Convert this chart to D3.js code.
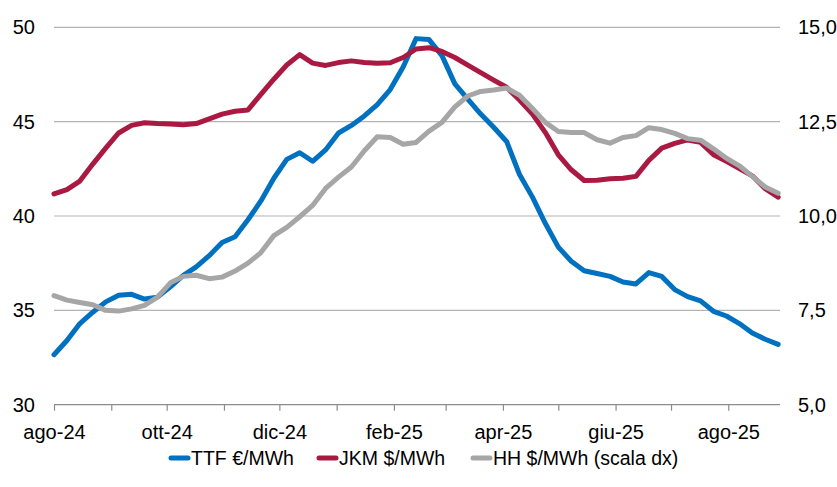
<!DOCTYPE html>
<html>
<head>
<meta charset="utf-8">
<script src="https://cdn.jsdelivr.net/npm/d3@7"></script>
<style>
  html, body { margin: 0; padding: 0; background: #fff; }
  svg { display: block; font-family: "Liberation Sans", Arial, sans-serif; }
</style>
</head>
<body>
<svg id="chart" width="837" height="487"></svg>
<script>
// ---- data (weekly readings) ----
const dates = [
  "2024-08-01","2024-08-08","2024-08-15","2024-08-22","2024-08-29","2024-09-05","2024-09-12","2024-09-19","2024-09-26",
  "2024-10-03","2024-10-10","2024-10-17","2024-10-24","2024-10-31","2024-11-07","2024-11-14","2024-11-21","2024-11-28",
  "2024-12-05","2024-12-12","2024-12-19","2024-12-26","2025-01-02","2025-01-09","2025-01-16","2025-01-23","2025-01-30",
  "2025-02-06","2025-02-13","2025-02-20","2025-02-27","2025-03-06","2025-03-13","2025-03-20","2025-03-27","2025-04-03",
  "2025-04-10","2025-04-17","2025-04-24","2025-05-01","2025-05-08","2025-05-15","2025-05-22","2025-05-29","2025-06-05",
  "2025-06-12","2025-06-19","2025-06-26","2025-07-03","2025-07-10","2025-07-17","2025-07-24","2025-07-31","2025-08-07",
  "2025-08-14","2025-08-21","2025-08-28"
];
const ttf = [
  32.65,33.4,34.3,34.9,35.45,35.8,35.85,35.6,35.7,36.25,36.85,37.3,37.9,38.6,38.9,39.8,40.8,42.0,43.0,43.35,42.9,
  43.5,44.4,44.8,45.3,45.9,46.7,47.9,49.4,49.35,48.5,47.0,46.2,45.4,44.7,43.95,42.2,41.0,39.6,38.35,37.6,37.1,36.95,
  36.8,36.5,36.4,37.0,36.8,36.1,35.73,35.5,34.95,34.7,34.3,33.8,33.47,33.2
];
const jkm = [
  41.17,41.4,41.85,42.75,43.6,44.4,44.8,44.94,44.9,44.88,44.83,44.9,45.15,45.4,45.55,45.62,46.45,47.25,48.0,48.55,48.1,
  47.98,48.13,48.22,48.14,48.1,48.12,48.4,48.85,48.92,48.72,48.4,48.0,47.6,47.2,46.82,46.15,45.4,44.42,43.24,42.45,41.88,41.9,
  41.97,42.0,42.1,42.95,43.6,43.85,44.03,43.9,43.25,42.9,42.52,42.13,41.45,41.0
];
const hh = [
  7.89,7.77,7.71,7.65,7.50,7.48,7.54,7.63,7.85,8.23,8.40,8.43,8.34,8.38,8.54,8.75,9.03,9.48,9.70,9.98,10.28,
  10.73,11.03,11.30,11.73,12.10,12.08,11.90,11.95,12.25,12.48,12.89,13.18,13.30,13.34,13.39,13.20,12.85,12.48,12.24,12.21,12.21,12.02,
  11.93,12.08,12.13,12.34,12.29,12.19,12.05,12.01,11.78,11.53,11.33,11.05,10.77,10.60
];
const leftTicks = [30, 35, 40, 45, 50];
const rightTicks = [5, 7.5, 10, 12.5, 15];
const monthLabels = ["gen","feb","mar","apr","mag","giu","lug","ago","set","ott","nov","dic"];
const seriesNames = ["TTF €/MWh", "JKM $/MWh", "HH $/MWh (scala dx)"];
const seriesColors = ["#0070C0", "#AA1941", "#A6A6A6"];

// ---- layout ----
const svg = d3.select("#chart");
const X0 = 54, X1 = 780, Y0 = 27.3, Y1 = 404.7;
const FONT = "'Liberation Sans', Arial, sans-serif";
const parse = d3.timeParse("%Y-%m-%d");
const dt = dates.map(parse);

const x = d3.scaleTime()
  .domain([parse("2024-08-01"), parse("2025-08-29")])
  .range([X0, X1]);
const yL = d3.scaleLinear().domain([30, 50]).range([Y1, Y0]);
const yR = d3.scaleLinear().domain([5, 15]).range([Y1, Y0]);

// gridlines
svg.append("g").selectAll("line")
  .data(leftTicks.filter(d => d !== 30))
  .join("line")
  .attr("x1", X0).attr("x2", X1)
  .attr("y1", d => yL(d)).attr("y2", d => yL(d))
  .attr("stroke", "#b4b4b4").attr("stroke-width", 1.2);

// x axis
const monthTicks = d3.timeMonth.range(parse("2024-08-01"), parse("2025-08-30"));
const xAxis = d3.axisBottom(x)
  .tickValues(monthTicks)
  .tickSize(6)
  .tickPadding(14)
  .tickFormat((d, i) => i % 2 === 0 ? monthLabels[d.getMonth()] + "-" + d3.timeFormat("%y")(d) : "");
const gx = svg.append("g").attr("transform", `translate(0,${Y1})`).call(xAxis);
gx.select(".domain").attr("d", `M${X0},0H${X1}`).attr("stroke", "#8c8c8c").attr("stroke-width", 1.2);
gx.selectAll(".tick line").attr("stroke", "#8c8c8c").attr("stroke-width", 1.2);
gx.selectAll(".tick text").attr("fill", "#000").attr("font-size", 20).attr("font-family", FONT);

// left axis
const gl = svg.append("g").attr("transform", `translate(${X0},0)`)
  .call(d3.axisLeft(yL).tickValues(leftTicks).tickSize(0).tickPadding(19).tickFormat(d3.format("d")));
gl.select(".domain").remove();
gl.selectAll(".tick text").attr("fill", "#000").attr("font-size", 20).attr("font-family", FONT);

// right axis
const fmtR = d => d.toFixed(1).replace(".", ",");
const gr = svg.append("g").attr("transform", `translate(${X1},0)`)
  .call(d3.axisRight(yR).tickValues(rightTicks).tickSize(0).tickPadding(18).tickFormat(fmtR));
gr.select(".domain").remove();
gr.selectAll(".tick text").attr("fill", "#000").attr("font-size", 20).attr("font-family", FONT);

// lines
const lineL = d3.line().x((d, i) => x(dt[i])).y(d => yL(d));
const lineR = d3.line().x((d, i) => x(dt[i])).y(d => yR(d));
const series = [
  { v: ttf, gen: lineL, c: seriesColors[0] },
  { v: jkm, gen: lineL, c: seriesColors[1] },
  { v: hh,  gen: lineR, c: seriesColors[2] }
];
svg.append("g").selectAll("path")
  .data(series)
  .join("path")
  .attr("d", s => s.gen(s.v))
  .attr("fill", "none")
  .attr("stroke", s => s.c)
  .attr("stroke-width", 5)
  .attr("stroke-linejoin", "round")
  .attr("stroke-linecap", "round");

// legend
const legendX = [171, 319, 473];
const lg = svg.append("g").selectAll("g")
  .data(seriesNames)
  .join("g")
  .attr("transform", (d, i) => `translate(${legendX[i]},458)`);
lg.append("line")
  .attr("x1", 0).attr("x2", 17).attr("y1", 0).attr("y2", 0)
  .attr("stroke", (d, i) => seriesColors[i]).attr("stroke-width", 5)
  .attr("stroke-linecap", "round");
lg.append("text")
  .attr("x", 20).attr("y", 0).attr("dy", "0.35em")
  .attr("font-size", 19.5).attr("fill", "#000").attr("font-family", FONT)
  .text(d => d);
</script>
</body>
</html>
